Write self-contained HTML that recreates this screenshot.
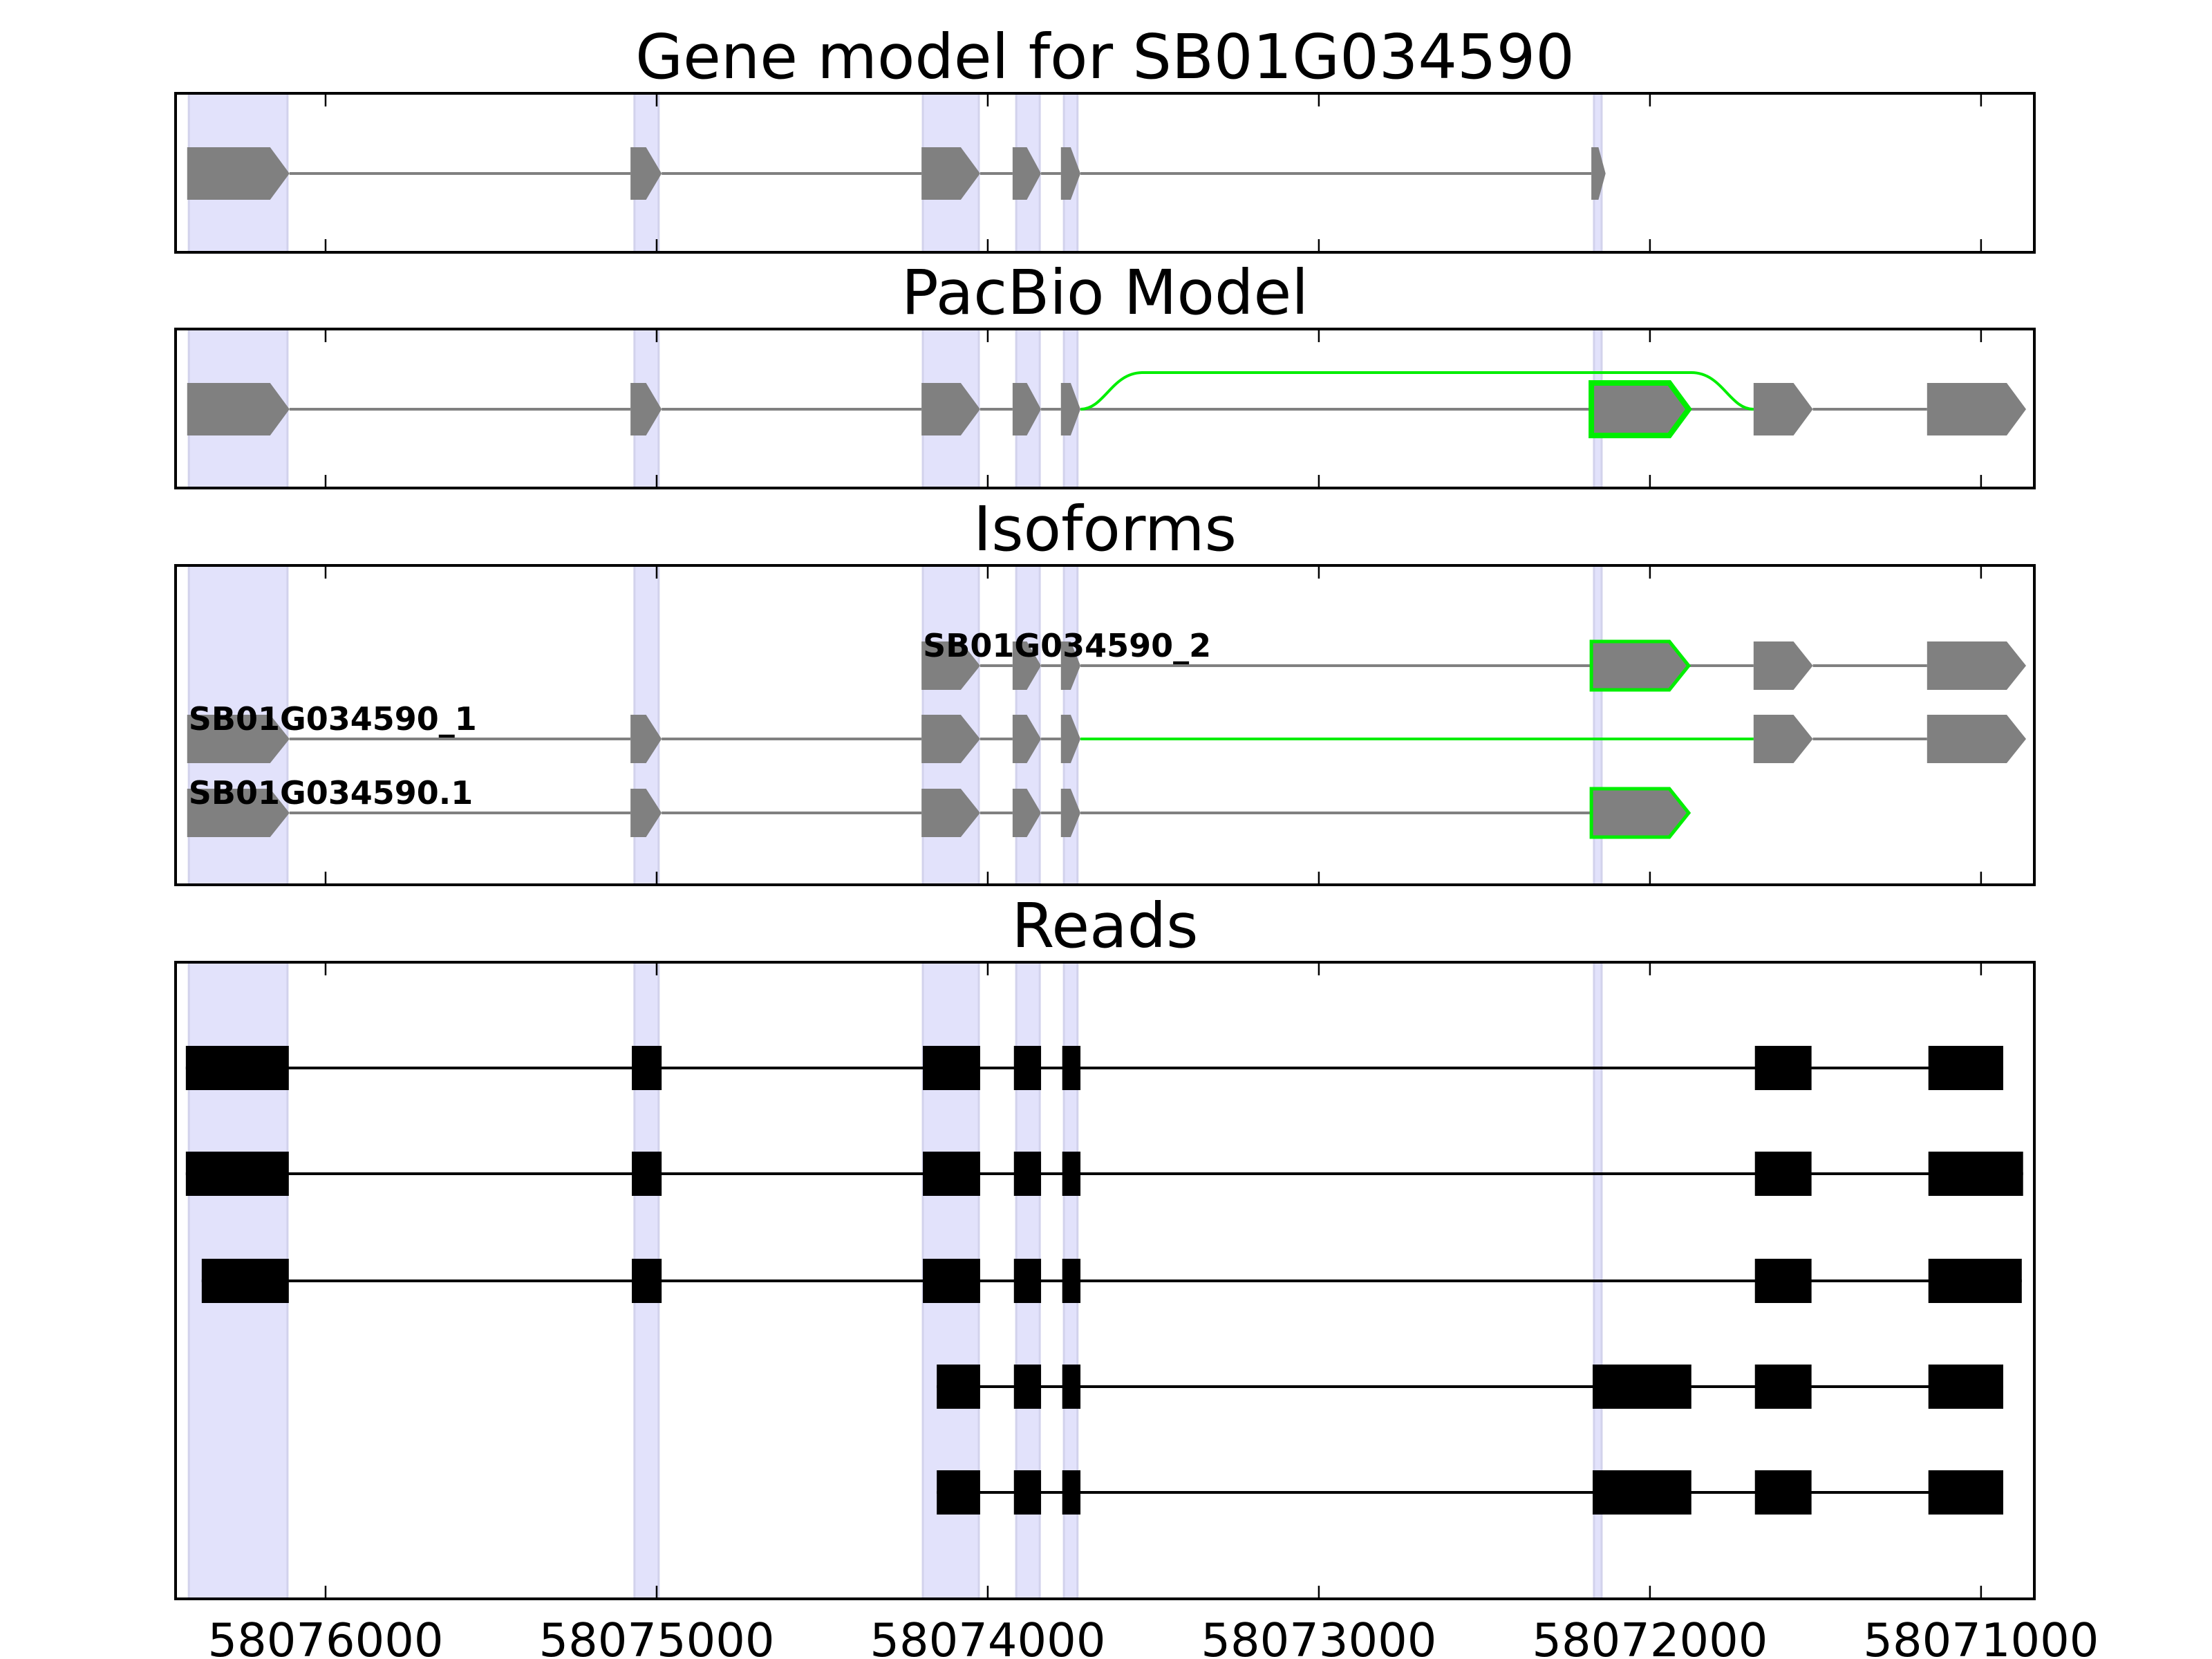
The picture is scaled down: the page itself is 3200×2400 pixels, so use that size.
<!DOCTYPE html>
<html><head><meta charset="utf-8"><style>
html,body{margin:0;padding:0;background:#fff;}
svg{display:block;font-family:"DejaVu Sans","Liberation Sans",sans-serif;}
</style></head><body>
<svg id="chart" width="3200" height="2400" viewBox="0 0 3200 2400" xmlns="http://www.w3.org/2000/svg"></svg>
<script>
// ---- data ----
const tickValues = [58076000,58075000,58074000,58073000,58072000,58071000];
const tickLabels = ["58076000","58075000","58074000","58073000","58072000","58071000"];
const shadeStarts = [58076413,58075067,58074196,58073914,58073770,58072169];
const shadeEnds   = [58076115,58074994,58074027,58073843,58073729,58072146];
const geneExonStarts = [58076418,58075079,58074200,58073925,58073779,58072177];
const geneExonEnds   = [58076109,58074985,58074023,58073839,58073720,58072134];
const pacExonStarts = [58076418,58075079,58074200,58073925,58073779,58072177,58071687,58071163];
const pacExonEnds   = [58076109,58074985,58074023,58073839,58073720,58071883,58071508,58070864];
const pacNovel = [false,false,false,false,false,true,false,false];
const isoNames = ["SB01G034590_2","SB01G034590_1","SB01G034590.1"];
const iso2Starts = [58074200,58073925,58073779,58072177,58071687,58071163];
const iso2Ends   = [58074023,58073839,58073720,58071883,58071508,58070864];
const iso2Novel  = [false,false,false,true,false,false];
const iso1Starts = [58076418,58075079,58074200,58073925,58073779,58071687,58071163];
const iso1Ends   = [58076109,58074985,58074023,58073839,58073720,58071508,58070864];
const iso1NovelIntron = [false,false,false,false,true,false];
const isoRefStarts = [58076418,58075079,58074200,58073925,58073779,58072177];
const isoRefEnds   = [58076109,58074985,58074023,58073839,58073720,58071883];
const isoRefNovel  = [false,false,false,false,false,true];
const read1Starts = [58076422,58075075,58074196,58073921,58073775,58071683,58071159];
const read1Ends   = [58076111,58074985,58074023,58073839,58073720,58071512,58070933];
const read2Starts = [58076422,58075075,58074196,58073921,58073775,58071683,58071159];
const read2Ends   = [58076111,58074985,58074023,58073839,58073720,58071512,58070873];
const read3Starts = [58076374,58075075,58074196,58073921,58073775,58071683,58071159];
const read3Ends   = [58076111,58074985,58074023,58073839,58073720,58071512,58070877];
const read4Starts = [58074154,58073921,58073775,58072173,58071683,58071159];
const read4Ends   = [58074023,58073839,58073720,58071875,58071512,58070933];
const read5Starts = [58074154,58073921,58073775,58072173,58071683,58071159];
const read5Ends   = [58074023,58073839,58073720,58071875,58071512,58070933];

// ---- layout ----
const NS="http://www.w3.org/2000/svg";
const svg=document.getElementById('chart');
const AX_L=254, AX_R=2943, X0=58076453, X1=58070839;
function xs(v){return AX_L+(X0-v)/(X0-X1)*(AX_R-AX_L);}
function mk(tag,attrs,parent){const e=document.createElementNS(NS,tag);for(const k in attrs)e.setAttribute(k,attrs[k]);(parent||svg).appendChild(e);return e;}
const panels=[
 {title:"Gene model for SB01G034590",top:135,bot:365,name:"gene-model-panel"},
 {title:"PacBio Model",top:476,bot:706,name:"pacbio-panel"},
 {title:"Isoforms",top:818,bot:1280,name:"isoforms-panel"},
 {title:"Reads",top:1392,bot:2313,name:"reads-panel"}];
const groups=[];
panels.forEach((p,pi)=>{
  const g=mk('g',{});
  
  
  groups.push(g);
  for(let i=0;i<shadeStarts.length;i++){
    const a=xs(shadeStarts[i]),b=xs(shadeEnds[i]);
    const r=mk('rect',{x:a,y:p.top,width:b-a,height:p.bot-p.top,fill:'#e2e2fb',stroke:'#d2d2ec','stroke-width':3},g);
    
    
  }
  const t=mk('text',{x:(AX_L+AX_R)/2,y:p.top-22,'text-anchor':'middle','font-size':89,fill:'#000'},svg);
  t.textContent=p.title;
  
  
});
function arrowExon(g,s,e,cy,h,fill,stroke,sw){
  const a=xs(s),b=xs(e),w=b-a,tip=Math.min(28,w*0.5);
  const pts=[[a,cy-h/2],[b-tip,cy-h/2],[b,cy],[b-tip,cy+h/2],[a,cy+h/2]].map(q=>q.join(',')).join(' ');
  const el=mk('polygon',{points:pts,fill:fill,stroke:stroke||'none','stroke-width':sw||0},g);
  
  
}
function model(g,starts,ends,cy,h,novelEx,novelIntron){
  for(let i=0;i<starts.length-1;i++){
    const green=novelIntron&&novelIntron[i];
    const l=mk('line',{x1:xs(ends[i]),x2:xs(starts[i+1]),y1:cy,y2:cy,stroke:green?'#00ee00':'#808080','stroke-width':4},g);
    
    
  }
  for(let i=0;i<starts.length;i++){
    const nv=novelEx&&novelEx[i];
    arrowExon(g,starts[i],ends[i],cy,h,'#808080',nv?'#00ee00':null,nv?(h>72?8:5):0);
  }
}
model(groups[0],geneExonStarts,geneExonEnds,251,76);
model(groups[1],pacExonStarts,pacExonEnds,592,76,pacNovel);
(function(){
  const a=xs(pacExonEnds[4]),b=xs(pacExonStarts[6]),y=592,top=539;
  const d=`M${a},${y} C${a+35},${y} ${a+45},${top} ${a+90},${top} L${b-90},${top} C${b-45},${top} ${b-35},${y} ${b},${y}`;
  const p=mk('path',{d:d,fill:'none',stroke:'#00ee00','stroke-width':4},groups[1]);
  
  
})();
const isoY=[963,1069,1176];
model(groups[2],iso2Starts,iso2Ends,isoY[0],70,iso2Novel);
model(groups[2],iso1Starts,iso1Ends,isoY[1],70,null,iso1NovelIntron);
model(groups[2],isoRefStarts,isoRefEnds,isoY[2],70,isoRefNovel);
const labStarts=[iso2Starts[0],iso1Starts[0],isoRefStarts[0]];
isoNames.forEach((n,i)=>{
  const t=mk('text',{x:xs(labStarts[i])+2,y:isoY[i]-13,'font-size':46,'font-weight':'bold',fill:'#000'},groups[2]);
  t.textContent=n;
  
  
});
const readS=[read1Starts,read2Starts,read3Starts,read4Starts,read5Starts];
const readE=[read1Ends,read2Ends,read3Ends,read4Ends,read5Ends];
const readY=[1545,1698,1853,2006,2159];
readS.forEach((S,r)=>{
  const E=readE[r],cy=readY[r];
  const l=mk('line',{x1:xs(S[0]),x2:xs(E[E.length-1]),y1:cy,y2:cy,stroke:'#000','stroke-width':4},groups[3]);
  
  
  for(let i=0;i<S.length;i++){
    const a=xs(S[i]),b=xs(E[i]);
    const rc=mk('rect',{x:a,y:cy-32,width:b-a,height:64,fill:'#000'},groups[3]);
    
    
  }
});
panels.forEach((p,pi)=>{
  tickValues.forEach(v=>{
    const x=xs(v);
    mk('line',{x1:x,x2:x,y1:p.top,y2:p.top+19,stroke:'#000','stroke-width':2.5});
    mk('line',{x1:x,x2:x,y1:p.bot,y2:p.bot-19,stroke:'#000','stroke-width':2.5});
  });
  const f=mk('rect',{x:AX_L,y:p.top,width:AX_R-AX_L,height:p.bot-p.top,fill:'none',stroke:'#000','stroke-width':4});
  
  
});
tickValues.forEach((v,i)=>{
  const t=mk('text',{x:xs(v),y:2396,'text-anchor':'middle','font-size':67,fill:'#000'});
  t.textContent=tickLabels[i];
  
  
});
</script>
</body></html>
